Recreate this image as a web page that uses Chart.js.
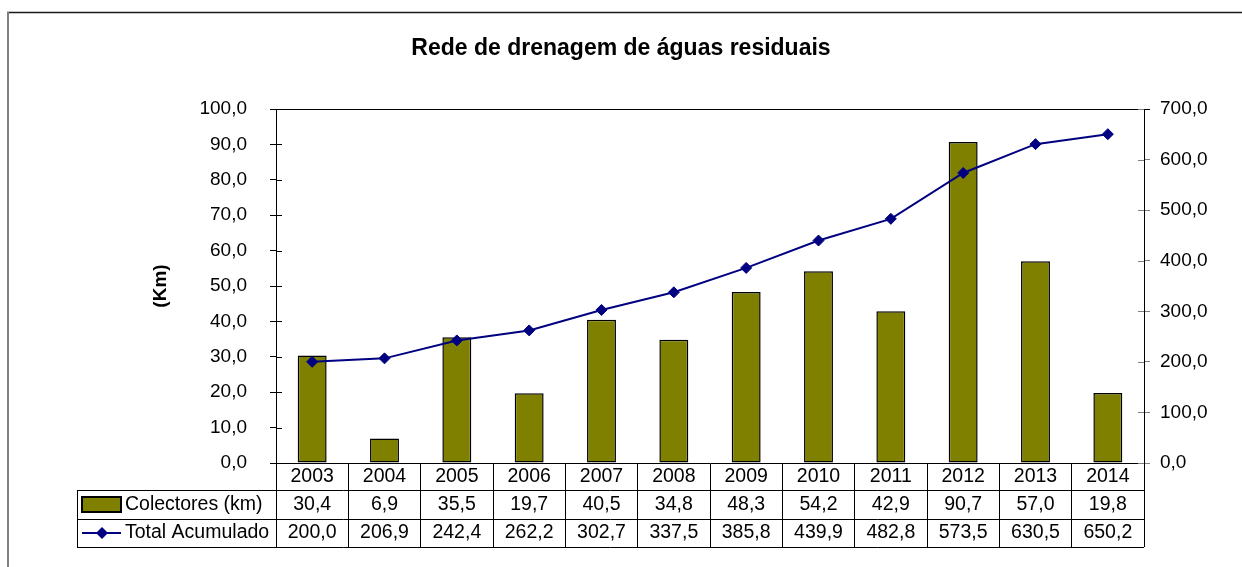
<!DOCTYPE html>
<html>
<head>
<meta charset="utf-8">
<title>Rede de drenagem de águas residuais</title>
<script src="https://cdn.jsdelivr.net/npm/chart.js@4.4.1/dist/chart.umd.min.js"></script>
<style>
    html, body { margin: 0; padding: 0; background: #ffffff; }
    #wrap { width: 1242px; height: 567px; }
</style>
</head>
<body>
<div id="wrap"><canvas id="drenagemChart" width="1242" height="567"></canvas></div>
<script>
// Data
const years = ['2003', '2004', '2005', '2006', '2007', '2008', '2009', '2010', '2011', '2012', '2013', '2014'];
const colectores = [30.4, 6.9, 35.5, 19.7, 40.5, 34.8, 48.3, 54.2, 42.9, 90.7, 57.0, 19.8];
const totalAcumulado = [200.0, 206.9, 242.4, 262.2, 302.7, 337.5, 385.8, 439.9, 482.8, 573.5, 630.5, 650.2];

const seriesNames = ['Colectores (km)', 'Total Acumulado'];
const chartTitle = 'Rede de drenagem de águas residuais';
const leftAxisTitle = '(Km)';

const barColor = '#808000';
const lineColor = '#000080';
const fontFamily = "'Liberation Sans', Arial, sans-serif";

Chart.defaults.font.family = fontFamily;
Chart.defaults.color = '#000000';

// format numbers the portuguese way: 30,4
function fmt(v) {
    return Number(v).toFixed(1).replace('.', ',');
}

// Draws the outer frame, the plot top border and the data table under the x axis
const tablePlugin = {
    id: 'dataTable',
    beforeDraw(chart) {
        const ctx = chart.ctx;
        ctx.save();
        ctx.fillStyle = '#ffffff';
        ctx.fillRect(0, 0, chart.width, chart.height);
        // outer frame (top + left visible)
        ctx.strokeStyle = '#1a1a1a';
        ctx.lineWidth = 1.5;
        ctx.beginPath();
        ctx.moveTo(7, 12.5);
        ctx.lineTo(chart.width, 12.5);
        ctx.stroke();
        ctx.strokeStyle = '#808080';
        ctx.lineWidth = 2;
        ctx.beginPath();
        ctx.moveTo(8, 12);
        ctx.lineTo(8, chart.height);
        ctx.stroke();
        ctx.restore();
    },
    afterDraw(chart) {
        const ctx = chart.ctx;
        const area = chart.chartArea;
        const x = chart.scales.x;
        const yL = chart.scales.y;
        const yR = chart.scales.yR;

        ctx.save();
        // top border of the plot area
        ctx.strokeStyle = '#000000';
        ctx.lineWidth = 1;
        ctx.beginPath();
        ctx.moveTo(area.left, Math.round(area.top) + 0.5);
        ctx.lineTo(area.right + 6, Math.round(area.top) + 0.5);
        ctx.stroke();

        // inner half of the cross tick marks (Excel style)
        ctx.beginPath();
        yL.ticks.forEach(t => {
            const py = Math.round(yL.getPixelForValue(t.value)) + 0.5;
            ctx.moveTo(area.left, py);
            ctx.lineTo(area.left + 6, py);
        });
        ctx.stroke();
        ctx.strokeStyle = '#808080';
        ctx.beginPath();
        yR.ticks.forEach(t => {
            const py = Math.round(yR.getPixelForValue(t.value)) + 0.5;
            ctx.moveTo(area.right - 6, py);
            ctx.lineTo(area.right, py);
        });
        ctx.stroke();

        // table geometry
        const tableLeft = 77;
        const rowLines = [490, 519, 547];
        const rowCenters = [477, 505, 533];

        ctx.strokeStyle = '#000000';
        ctx.beginPath();
        rowLines.forEach(y => {
            ctx.moveTo(tableLeft, y + 0.5);
            ctx.lineTo(area.right, y + 0.5);
        });
        ctx.moveTo(tableLeft + 0.5, rowLines[0]);
        ctx.lineTo(tableLeft + 0.5, rowLines[2] + 0.5);
        ctx.stroke();

        // cell texts
        ctx.font = '19.5px ' + fontFamily;
        ctx.fillStyle = '#000000';
        ctx.textAlign = 'center';
        ctx.textBaseline = 'middle';
        years.forEach((yr, i) => {
            const cx = x.getPixelForValue(i);
            ctx.fillText(yr, cx, rowCenters[0]);
            ctx.fillText(fmt(colectores[i]), cx, rowCenters[1]);
            ctx.fillText(fmt(totalAcumulado[i]), cx, rowCenters[2]);
        });

        // legend keys + names
        ctx.fillStyle = barColor;
        ctx.fillRect(82, 497, 39, 15);
        ctx.strokeStyle = '#000000';
        ctx.lineWidth = 2;
        ctx.strokeRect(82, 497, 39, 15);

        ctx.strokeStyle = lineColor;
        ctx.lineWidth = 2;
        ctx.beginPath();
        ctx.moveTo(82, rowCenters[2]);
        ctx.lineTo(121, rowCenters[2]);
        ctx.stroke();
        ctx.fillStyle = lineColor;
        ctx.beginPath();
        ctx.moveTo(102, rowCenters[2] - 6);
        ctx.lineTo(108, rowCenters[2]);
        ctx.lineTo(102, rowCenters[2] + 6);
        ctx.lineTo(96, rowCenters[2]);
        ctx.closePath();
        ctx.fill();

        ctx.fillStyle = '#000000';
        ctx.textAlign = 'left';
        ctx.fillText(seriesNames[0], 125, rowCenters[1]);
        ctx.fillText(seriesNames[1], 125, rowCenters[2]);
        ctx.restore();
    }
};

const ctx = document.getElementById('drenagemChart');

new Chart(ctx, {
    type: 'bar',
    data: {
        labels: years,
        datasets: [
            {
                type: 'line',
                label: seriesNames[1],
                data: totalAcumulado,
                yAxisID: 'yR',
                borderColor: lineColor,
                backgroundColor: lineColor,
                borderWidth: 2,
                pointStyle: 'rectRot',
                pointRadius: 5.5,
                pointBorderWidth: 1,
                tension: 0,
                order: 0
            },
            {
                type: 'bar',
                label: seriesNames[0],
                data: colectores,
                yAxisID: 'y',
                backgroundColor: barColor,
                borderColor: '#000000',
                borderWidth: 1.5,
                borderSkipped: false,
                categoryPercentage: 1.0,
                barPercentage: 0.4,
                order: 1
            }
        ]
    },
    options: {
        responsive: false,
        animation: false,
        layout: { padding: 0 },
        plugins: {
            legend: { display: false },
            tooltip: { enabled: false },
            title: {
                display: true,
                text: chartTitle,
                color: '#000000',
                font: { size: 23, weight: 'bold' },
                padding: { top: 35, bottom: 46.4 }
            }
        },
        scales: {
            x: {
                offset: true,
                grid: {
                    offset: true,
                    drawOnChartArea: false,
                    drawTicks: true,
                    tickLength: 84,
                    color: '#000000'
                },
                border: { display: true, color: '#000000', width: 1 },
                ticks: { display: false },
                afterFit: function(scale) { scale.height = 104; }
            },
            y: {
                position: 'left',
                min: 0,
                max: 100,
                ticks: {
                    stepSize: 10,
                    padding: 23,
                    font: { size: 19 },
                    callback: function(value) { return fmt(value); }
                },
                grid: {
                    drawOnChartArea: false,
                    drawTicks: true,
                    tickLength: 6,
                    color: '#000000'
                },
                border: { display: true, color: '#000000', width: 1 },
                title: {
                    display: true,
                    text: leftAxisTitle,
                    font: { size: 19, weight: 'bold' },
                    padding: { top: 149, bottom: 0 }
                },
                afterFit: function(scale) { scale.width = 276; }
            },
            yR: {
                position: 'right',
                min: 0,
                max: 700,
                ticks: {
                    stepSize: 100,
                    padding: 10,
                    font: { size: 19 },
                    callback: function(value) { return fmt(value); }
                },
                grid: {
                    drawOnChartArea: false,
                    drawTicks: true,
                    tickLength: 6,
                    color: '#808080'
                },
                border: { display: true, color: '#000000', width: 1 },
                afterFit: function(scale) { scale.width = 98; }
            }
        }
    },
    plugins: [tablePlugin]
});
</script>
</body>
</html>
